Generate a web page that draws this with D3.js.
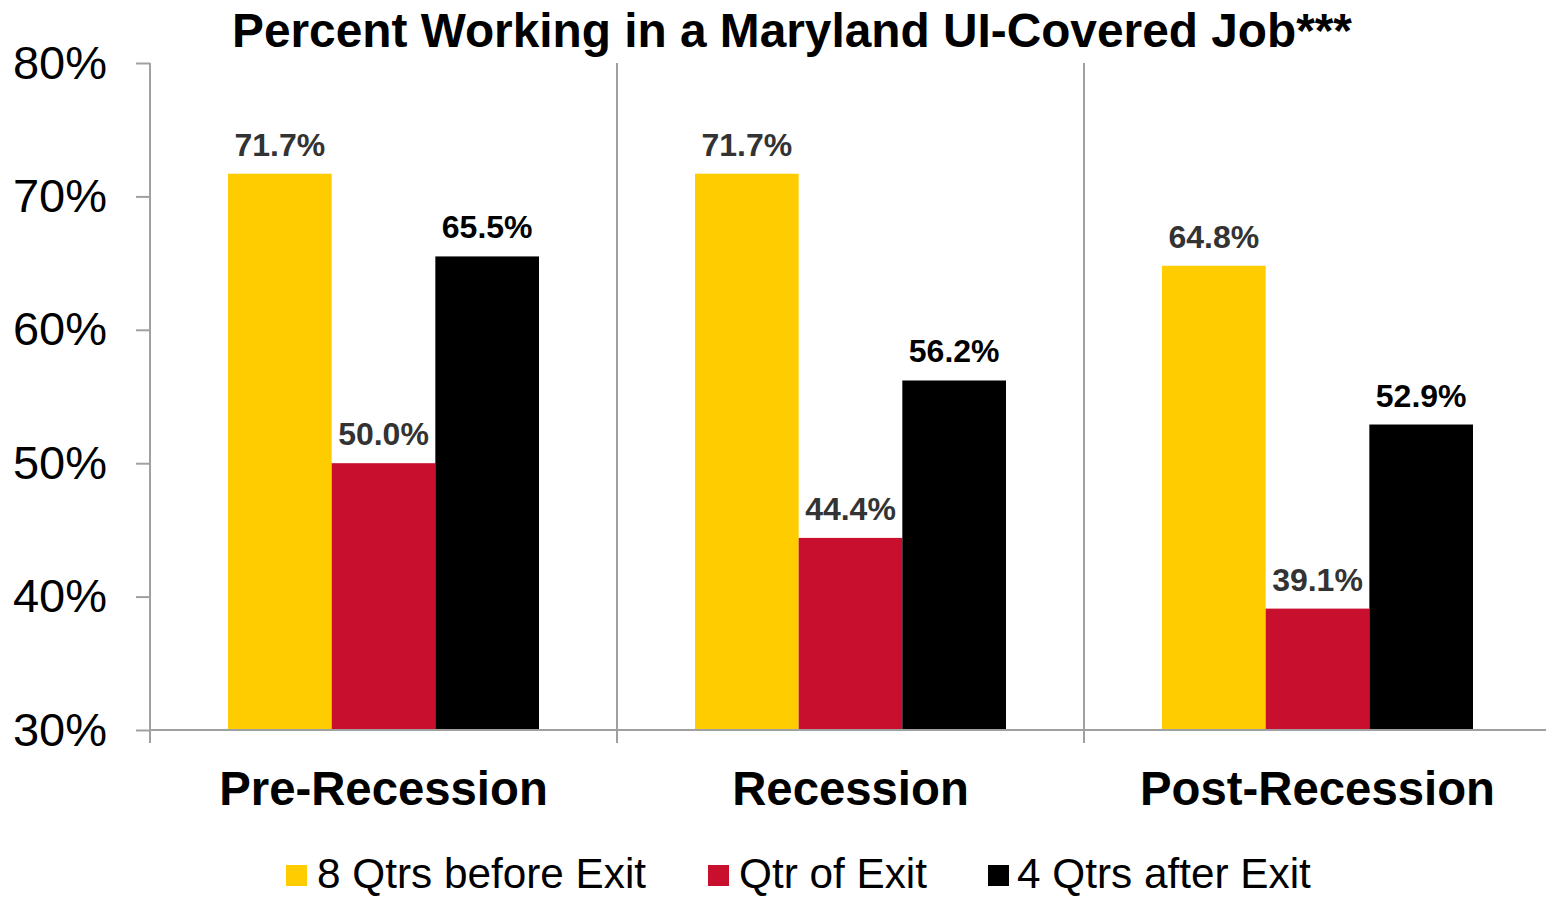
<!DOCTYPE html>
<html>
<head>
<meta charset="utf-8">
<script src="https://cdn.jsdelivr.net/npm/d3@7"></script>
<style>
  html, body { margin: 0; padding: 0; background: #fff; }
  svg { display: block; font-family: "Liberation Sans", Arial, sans-serif; }
</style>
</head>
<body>
<svg id="chart" width="1546" height="897"></svg>
<script>
// Periods along the x axis
const categories = ["Pre-Recession", "Recession", "Post-Recession"];
// Series shown within each period
const seriesNames = ["8 Qtrs before Exit", "Qtr of Exit", "4 Qtrs after Exit"];
const seriesColors = ["#FFCC00", "#C8102E", "#000000"];
const labelColors = ["#333333", "#333333", "#000000"];
// Percent working, one array per series (values per period)
const before8 = [71.7, 71.7, 64.8];
const exitQtr = [50.0, 44.4, 39.1];
const after4 = [65.5, 56.2, 52.9];
const yTicks = [30, 40, 50, 60, 70, 80];

const seriesValues = [before8, exitQtr, after4];
const rows = categories.map((c, i) => ({
  category: c,
  values: seriesNames.map((s, j) => ({ series: s, idx: j, value: seriesValues[j][i] }))
}));

const svg = d3.select("#chart");
const axisColor = "#a0a0a0";

const x0 = d3.scaleBand().domain(categories).range([150, 1551]).paddingInner(0).paddingOuter(0);
const groupPad = 78;
const x1 = d3.scaleBand().domain(seriesNames).range([groupPad, x0.bandwidth() - groupPad]).padding(0);
const y = d3.scaleLinear().domain([30, 80]).range([730, 63]);

// Title
svg.append("text")
  .attr("x", 792).attr("y", 47)
  .attr("text-anchor", "middle")
  .attr("font-size", 47.8).attr("font-weight", "bold")
  .attr("fill", "#000")
  .text("Percent Working in a Maryland UI-Covered Job***");

// Y axis
const yAxis = svg.append("g")
  .attr("transform", "translate(150,0)")
  .call(d3.axisLeft(y).tickValues(yTicks).tickFormat(d => d + "%").tickSize(14).tickPadding(29));
yAxis.select(".domain").remove();
yAxis.selectAll(".tick line").attr("stroke", axisColor).attr("stroke-width", 2);
yAxis.selectAll(".tick text")
  .attr("font-size", 47).attr("fill", "#000")
  .attr("font-family", "'Liberation Sans', Arial, sans-serif");

// Vertical y axis line plus category dividers
const dividers = [x0.range()[0]].concat(categories.slice(1).map(c => x0(c)));
svg.append("g").selectAll("line")
  .data(dividers)
  .join("line")
  .attr("x1", d => d).attr("x2", d => d)
  .attr("y1", y(80)).attr("y2", 743)
  .attr("stroke", axisColor).attr("stroke-width", 2);

// Bars
const groups = svg.append("g").selectAll("g")
  .data(rows)
  .join("g")
  .attr("transform", d => `translate(${x0(d.category)},0)`);

groups.selectAll("rect")
  .data(d => d.values)
  .join("rect")
  .attr("x", d => x1(d.series))
  .attr("y", d => y(d.value))
  .attr("width", x1.bandwidth())
  .attr("height", d => y(30) - y(d.value))
  .attr("fill", d => seriesColors[d.idx]);

// Value labels
groups.selectAll("text")
  .data(d => d.values)
  .join("text")
  .attr("x", d => x1(d.series) + x1.bandwidth() / 2)
  .attr("y", d => y(d.value) - 18)
  .attr("text-anchor", "middle")
  .attr("font-size", 32).attr("font-weight", "bold")
  .attr("fill", d => labelColors[d.idx])
  .text(d => d.value.toFixed(1) + "%");

// X axis baseline
svg.append("line")
  .attr("x1", 150).attr("x2", 1546)
  .attr("y1", y(30)).attr("y2", y(30))
  .attr("stroke", axisColor).attr("stroke-width", 2);

// Category labels
svg.append("g").selectAll("text")
  .data(categories)
  .join("text")
  .attr("x", d => x0(d) + x0.bandwidth() / 2)
  .attr("y", 805)
  .attr("text-anchor", "middle")
  .attr("font-size", 47.3).attr("font-weight", "bold")
  .attr("fill", "#000")
  .text(d => d);

// Legend
const legendX = [286, 708, 988];
const legend = svg.append("g").selectAll("g")
  .data(seriesNames)
  .join("g")
  .attr("transform", (d, i) => `translate(${legendX[i]},0)`);
legend.append("rect")
  .attr("x", 0).attr("y", 865)
  .attr("width", 21).attr("height", 21)
  .attr("fill", (d, i) => seriesColors[i]);
legend.append("text")
  .attr("x", (d, i) => i === 2 ? 29 : 31)
  .attr("y", 888)
  .attr("font-size", 42.3)
  .attr("fill", "#000")
  .text(d => d);
</script>
</body>
</html>
